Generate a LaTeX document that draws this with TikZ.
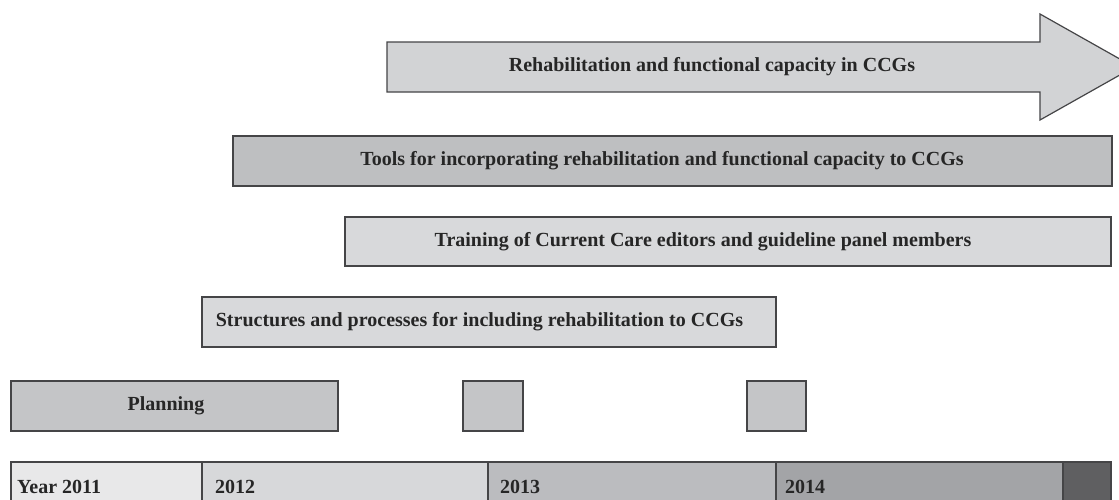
\documentclass[tikz,border=0pt]{standalone}
\usepackage{fontspec}
\setmainfont{Liberation Serif}
\definecolor{edge}{HTML}{454547}
\definecolor{arrowfill}{HTML}{D2D3D5}
\definecolor{toolsfill}{HTML}{BEBFC1}
\definecolor{lightfill}{HTML}{D8D9DB}
\definecolor{planfill}{HTML}{C4C5C7}
\definecolor{yA}{HTML}{E8E8E9}
\definecolor{yB}{HTML}{D7D8DA}
\definecolor{yC}{HTML}{BBBCBF}
\definecolor{yD}{HTML}{A3A4A7}
\definecolor{yE}{HTML}{5F5F61}
\tikzset{
  bar/.style={draw=edge, line width=1.2pt},
  lbl/.style={font=\fontsize{20}{24}\bfseries\selectfont, text=black!85, inner sep=0pt},
  yearlbl/.style={lbl, anchor=west}
}
\begin{document}
\begin{tikzpicture}[x=1pt,y=-1pt]
\useasboundingbox (0,0) rectangle (1119,499);
\fill[white] (0,0) rectangle (1119,499);
% big arrow
\filldraw[bar, fill=arrowfill, line join=miter]
  (387,42) -- (1040,42) -- (1040,14) -- (1134,67) -- (1040,120) -- (1040,92) -- (387,92) -- cycle;
\node[lbl] (rehab) at (712,67) {Rehabilitation and functional capacity in CCGs};
% tools
\filldraw[bar, fill=toolsfill] (233,136) rectangle (1112,186);
\node[lbl] (tools) at (662,161) {Tools for incorporating rehabilitation and functional capacity to CCGs};
% training
\filldraw[bar, fill=lightfill] (345,217) rectangle (1111,266);
\node[lbl] (training) at (703,241.5) {Training of Current Care editors and guideline panel members};
% structures
\filldraw[bar, fill=lightfill] (202,297) rectangle (776,347);
\node[lbl] (struct) at (479.5,322) {Structures and processes for including rehabilitation to CCGs};
% planning
\filldraw[bar, fill=planfill] (11,381) rectangle (338,431);
\node[lbl] (plan) at (166,406) {Planning};
% small squares
\filldraw[bar, fill=planfill] (463,381) rectangle (523,431);
\filldraw[bar, fill=planfill] (747,381) rectangle (806,431);
% year bar
\fill[yA] (11,462) rectangle (202,512);
\fill[yB] (202,462) rectangle (488,512);
\fill[yC] (488,462) rectangle (776,512);
\fill[yD] (776,462) rectangle (1063,512);
\fill[yE] (1063,462) rectangle (1111,512);
\draw[bar] (11,512) -- (11,462) -- (1111,462) -- (1111,512);
\draw[bar] (202,462) -- (202,512);
\draw[bar] (488,462) -- (488,512);
\draw[bar] (776,462) -- (776,512);
\draw[bar] (1063,462) -- (1063,512);
\node[yearlbl] (y11) at (17,487) {Year 2011};
\node[yearlbl] (y12) at (215,487) {2012};
\node[yearlbl] (y13) at (500,487) {2013};
\node[yearlbl] (y14) at (785,487) {2014};
\end{tikzpicture}
\end{document}
